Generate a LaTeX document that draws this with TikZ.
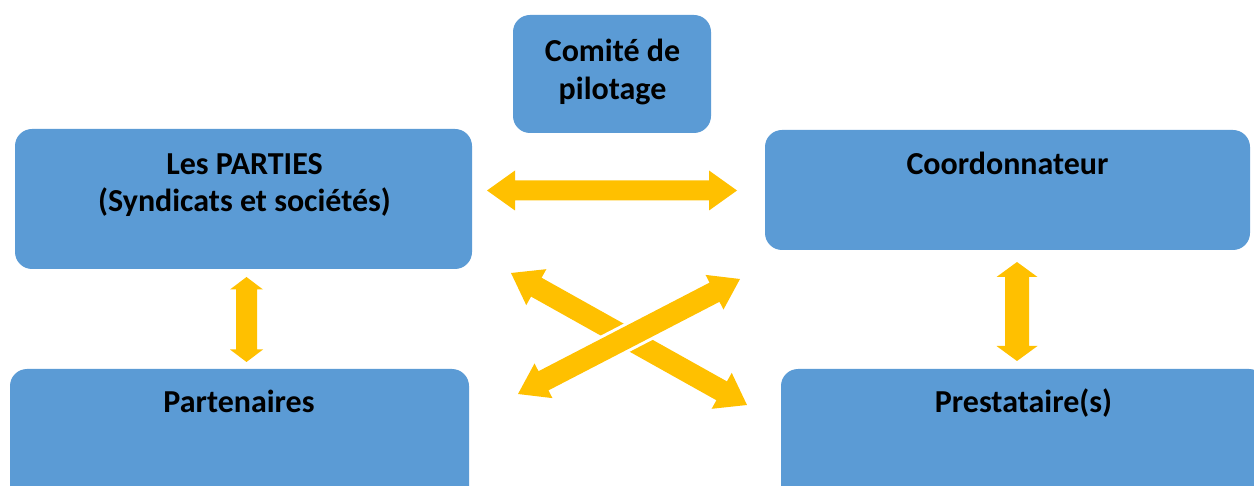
\documentclass[tikz,border=0pt]{standalone}
\usepackage{fontspec}
\setmainfont{Carlito}
\usetikzlibrary{calc}

\definecolor{boxblue}{HTML}{5B9BD5}
\definecolor{arrowgold}{HTML}{FFC000}

\tikzset{
  box/.style={rectangle, rounded corners=17pt, fill=boxblue, draw=none,
    inner sep=0pt, outer sep=0pt},
  lbl/.style={anchor=base, inner sep=0pt, text=black,
    font=\fontsize{32}{38}\selectfont\bfseries},
  blockarrow/.style={fill=arrowgold},
  halo/.style={draw=white, line width=6pt, line join=miter, fill=none},
}

% outline of a double-headed block arrow from #1 to #2
% #3 shaft half width, #4 head half width, #5 head length (all in pt)
\newcommand\arrowoutline[5]{%
  \path let \p1=($(#2)-(#1)$), \n1={atan2(\y1,\x1)}, \n2={veclen(\x1,\y1)} in
    \pgfextra{\xdef\arrang{\n1}\xdef\arrlen{\n2}\xdef\arrfrom{#1}}%
    \pgfextra{\gdef\arrpath{%
      (0pt,0pt) -- (#5pt,#4pt) -- (#5pt,#3pt) -- (\arrlen-#5pt,#3pt)
      -- (\arrlen-#5pt,#4pt) -- (\arrlen,0pt) -- (\arrlen-#5pt,-#4pt)
      -- (\arrlen-#5pt,-#3pt) -- (#5pt,-#3pt) -- (#5pt,-#4pt) -- cycle}};
}
% plain block arrow
\newcommand\dblarrow[5]{%
  \arrowoutline{#1}{#2}{#3}{#4}{#5}%
  \path[blockarrow,shift={(\arrfrom)},rotate=\arrang] \arrpath;
}
% block arrow with a white gap around it, laid over another one
\newcommand\dblarrowover[5]{%
  \arrowoutline{#1}{#2}{#3}{#4}{#5}%
  \path[halo,shift={(\arrfrom)},rotate=\arrang] \arrpath;
  \path[blockarrow,shift={(\arrfrom)},rotate=\arrang] \arrpath;
}

\begin{document}
\begin{tikzpicture}[x=1pt,y=-1pt]
\useasboundingbox (0,0) rectangle (1254,486);
\clip (0,0) rectangle (1254,486);

% boxes
\node[box, minimum width=198pt, minimum height=118pt] (comite) at (612,74) {};
\node[box, minimum width=457pt, minimum height=140pt] (parties) at (243.5,199) {};
\node[box, minimum width=485pt, minimum height=120pt] (coord) at (1007.5,190) {};
\node[box, minimum width=459pt, minimum height=160pt] (parten) at (239.5,449) {};
\node[box, minimum width=485pt, minimum height=160pt] (prest) at (1023.5,449) {};

% labels
\node[lbl] (comite1) at (612.5,62) {Comité de};
\node[lbl] (comite2) at (612.5,100) {pilotage};
\node[lbl] (parties1) at (244.5,175) {Les PARTIES};
\node[lbl] (parties2) at (244.5,212) {(Syndicats et sociétés)};
\node[lbl] (coord1) at (1007.5,175) {Coordonnateur};
\node[lbl] (parten1) at (239,413) {Partenaires};
\node[lbl] (prest1) at (1023.5,413) {Prestataire(s)};

% arrow end points
\coordinate (hA) at (487,190.5);
\coordinate (hB) at (737,190.5);
\coordinate (lA) at (246.5,277);
\coordinate (lB) at (246.5,362);
\coordinate (rA) at (1017,262);
\coordinate (rB) at (1017,361);
\coordinate (xA) at (511,273);
\coordinate (xB) at (747,405);
\coordinate (yA) at (518,394);
\coordinate (yB) at (740,279);

% arrows
\dblarrow{hA}{hB}{10}{20}{28}
\dblarrow{lA}{lB}{10.5}{16.5}{12.5}
\dblarrow{rA}{rB}{12}{20.5}{15}
\dblarrow{xA}{xB}{10.8}{20.6}{29}
\dblarrowover{yA}{yB}{10.8}{19.5}{28.7}
\end{tikzpicture}
\end{document}
